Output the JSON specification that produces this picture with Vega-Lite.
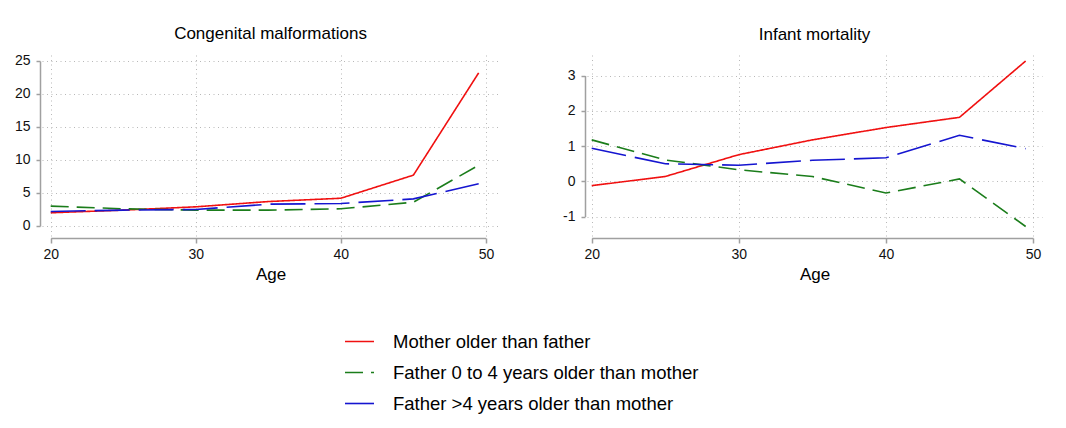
{
  "$schema": "https://vega.github.io/schema/vega-lite/v6.json",
  "padding": {"left": 14, "top": 24, "right": 20, "bottom": 4},
  "background": "white",
  "config": {
    "font": "Liberation Sans",
    "view": {"stroke": null},
    "title": {"fontSize": 17, "fontWeight": "normal", "color": "#000000", "offset": 11, "font": "Liberation Sans"},
    "axis": {
      "labelFont": "Liberation Sans", "titleFont": "Liberation Sans",
      "labelColor": "#111111", "titleColor": "#000000", "titleFontWeight": "normal",
      "domainColor": "#a0a0a0", "domainWidth": 1.5,
      "tickColor": "#a0a0a0", "tickWidth": 1.5,
      "gridColor": "#b8b8b8", "gridDash": [1, 3.5], "gridWidth": 1,
      "labelExpr": "'' + datum.value"
    },
    "line": {"strokeWidth": 1.6}
  },
  "datasets": {
    "cm": [
      {"age": 20, "group": "Mother older than father", "value": 2.0},
      {"age": 25, "group": "Mother older than father", "value": 2.4},
      {"age": 30, "group": "Mother older than father", "value": 2.9},
      {"age": 35, "group": "Mother older than father", "value": 3.7},
      {"age": 40, "group": "Mother older than father", "value": 4.2},
      {"age": 45, "group": "Mother older than father", "value": 7.7},
      {"age": 49.5, "group": "Mother older than father", "value": 23.2},
      {"age": 20, "group": "Father 0 to 4 years older than mother", "value": 3.0},
      {"age": 25, "group": "Father 0 to 4 years older than mother", "value": 2.6},
      {"age": 30, "group": "Father 0 to 4 years older than mother", "value": 2.4},
      {"age": 35, "group": "Father 0 to 4 years older than mother", "value": 2.4},
      {"age": 40, "group": "Father 0 to 4 years older than mother", "value": 2.6},
      {"age": 45, "group": "Father 0 to 4 years older than mother", "value": 3.6},
      {"age": 49.5, "group": "Father 0 to 4 years older than mother", "value": 9.2},
      {"age": 20, "group": "Father >4 years older than mother", "value": 2.2},
      {"age": 25, "group": "Father >4 years older than mother", "value": 2.4},
      {"age": 30, "group": "Father >4 years older than mother", "value": 2.5},
      {"age": 35, "group": "Father >4 years older than mother", "value": 3.3},
      {"age": 40, "group": "Father >4 years older than mother", "value": 3.4},
      {"age": 45, "group": "Father >4 years older than mother", "value": 4.1},
      {"age": 49.5, "group": "Father >4 years older than mother", "value": 6.4}
    ],
    "im": [
      {"age": 20, "group": "Mother older than father", "value": -0.12},
      {"age": 25, "group": "Mother older than father", "value": 0.14},
      {"age": 30, "group": "Mother older than father", "value": 0.76},
      {"age": 35, "group": "Mother older than father", "value": 1.18},
      {"age": 40, "group": "Mother older than father", "value": 1.53},
      {"age": 45, "group": "Mother older than father", "value": 1.82},
      {"age": 49.5, "group": "Mother older than father", "value": 3.42},
      {"age": 20, "group": "Father 0 to 4 years older than mother", "value": 1.18},
      {"age": 25, "group": "Father 0 to 4 years older than mother", "value": 0.61},
      {"age": 30, "group": "Father 0 to 4 years older than mother", "value": 0.33},
      {"age": 35, "group": "Father 0 to 4 years older than mother", "value": 0.14},
      {"age": 40, "group": "Father 0 to 4 years older than mother", "value": -0.33},
      {"age": 45, "group": "Father 0 to 4 years older than mother", "value": 0.07},
      {"age": 49.5, "group": "Father 0 to 4 years older than mother", "value": -1.28},
      {"age": 20, "group": "Father >4 years older than mother", "value": 0.94},
      {"age": 25, "group": "Father >4 years older than mother", "value": 0.50},
      {"age": 30, "group": "Father >4 years older than mother", "value": 0.46},
      {"age": 35, "group": "Father >4 years older than mother", "value": 0.60},
      {"age": 40, "group": "Father >4 years older than mother", "value": 0.67},
      {"age": 45, "group": "Father >4 years older than mother", "value": 1.31},
      {"age": 49.5, "group": "Father >4 years older than mother", "value": 0.93}
    ]
  },
  "bounds": "flush",
  "spacing": 88,
  "resolve": {"scale": {"color": "shared", "strokeDash": "shared"}},
  "hconcat": [
    {
      "data": {"name": "cm"},
      "width": 457,
      "height": 181,
      "title": "Congenital malformations",
      "mark": {"type": "line"},
      "encoding": {
        "x": {"field": "age", "type": "quantitative", "title": "Age",
          "scale": {"domain": [19.4, 50.9], "nice": false, "zero": false},
          "axis": {"values": [20, 30, 40, 50], "offset": 2, "tickSize": 5, "labelPadding": 4, "titlePadding": 5,
            "labelFontSize": 14, "titleFontSize": 17, "labelFlush": false,
            "domainDash": [0, 8.7, 435, 2000]}},
        "y": {"field": "value", "type": "quantitative", "title": null,
          "scale": {"domain": [-1.52, 25.9], "nice": false, "zero": false},
          "axis": {"values": [0, 5, 10, 15, 20, 25], "offset": 2, "tickSize": 4, "labelPadding": 6,
            "labelFontSize": 14, "domainDash": [0, 10, 165, 2000]}},
        "color": {"field": "group", "type": "nominal", "title": null,
          "sort": ["Mother older than father", "Father 0 to 4 years older than mother", "Father >4 years older than mother"],
          "scale": {"domain": ["Mother older than father", "Father 0 to 4 years older than mother", "Father >4 years older than mother"],
            "range": ["#f01010", "#1b7d1b", "#1515d0"]},
          "legend": {"orient": "none", "legendX": 302, "legendY": 271, "direction": "vertical",
            "symbolType": "stroke", "symbolSize": 841, "symbolStrokeWidth": 1.6,
            "labelFontSize": 18.5, "labelFont": "Liberation Sans", "labelColor": "#000000", "labelOffset": 18,
            "rowPadding": 6, "labelLimit": 500}},
        "strokeDash": {"field": "group", "type": "nominal", "title": null,
          "sort": ["Mother older than father", "Father 0 to 4 years older than mother", "Father >4 years older than mother"],
          "scale": {"domain": ["Mother older than father", "Father 0 to 4 years older than mother", "Father >4 years older than mother"],
            "range": [[1, 0], [18, 8], [35, 9]]},
          "legend": {"orient": "none", "legendX": 302, "legendY": 271, "direction": "vertical",
            "symbolType": "stroke", "symbolSize": 841, "symbolStrokeWidth": 1.6,
            "labelFontSize": 18.5, "labelFont": "Liberation Sans", "labelColor": "#000000", "labelOffset": 18,
            "rowPadding": 6, "labelLimit": 500}}
      }
    },
    {
      "data": {"name": "im"},
      "width": 455,
      "height": 181,
      "title": "Infant mortality",
      "mark": {"type": "line"},
      "encoding": {
        "x": {"field": "age", "type": "quantitative", "title": "Age",
          "scale": {"domain": [19.68, 50.61], "nice": false, "zero": false},
          "axis": {"values": [20, 30, 40, 50], "offset": 2, "tickSize": 5, "labelPadding": 4, "titlePadding": 5,
            "labelFontSize": 14, "titleFontSize": 17, "labelFlush": false,
            "domainDash": [0, 4.7, 441.3, 2000]}},
        "y": {"field": "value", "type": "quantitative", "title": null,
          "scale": {"domain": [-1.55, 3.59], "nice": false, "zero": false},
          "axis": {"values": [-1, 0, 1, 2, 3], "offset": 2, "tickSize": 4, "labelPadding": 6,
            "labelFontSize": 14, "domainDash": [0, 19.4, 141, 2000]}},
        "color": {"field": "group", "type": "nominal", "title": null,
          "sort": ["Mother older than father", "Father 0 to 4 years older than mother", "Father >4 years older than mother"]},
        "strokeDash": {"field": "group", "type": "nominal", "title": null,
          "sort": ["Mother older than father", "Father 0 to 4 years older than mother", "Father >4 years older than mother"]}
      }
    }
  ]
}
